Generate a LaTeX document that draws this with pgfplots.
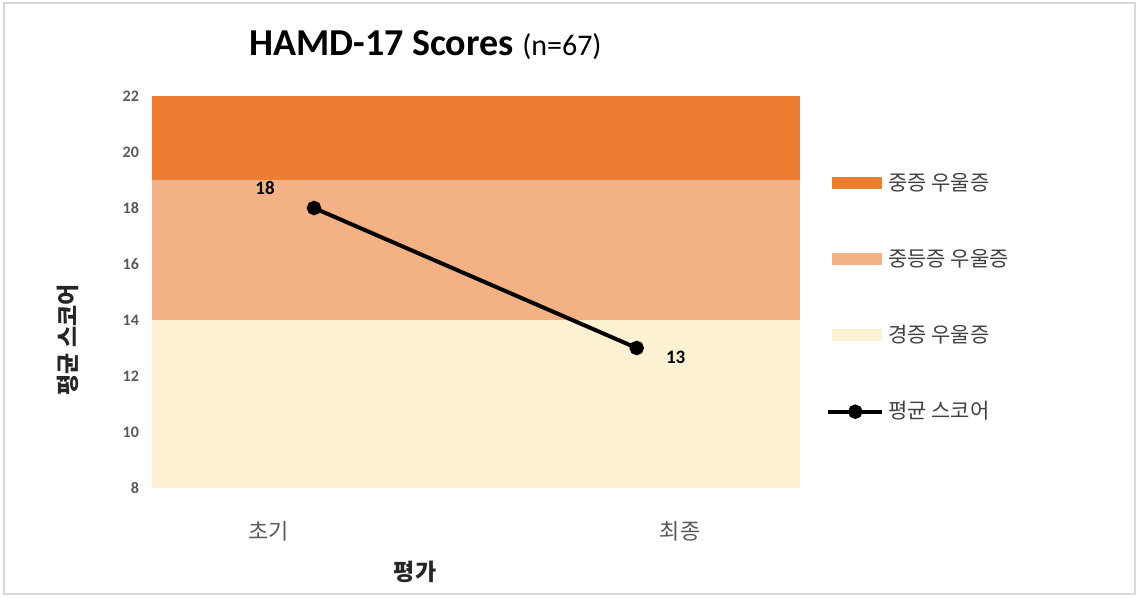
\documentclass[border=0pt]{standalone}
\usepackage{fontspec}
\setmainfont{Carlito}
\newfontfamily\kr{Noto Sans CJK KR}
\usepackage{pgfplots}
\pgfplotsset{compat=1.18}
\definecolor{sev}{HTML}{ED7D31}
\definecolor{mod}{HTML}{F4B183}
\definecolor{mild}{HTML}{FCF1D0}
\definecolor{tick}{HTML}{595959}
\definecolor{legtxt}{HTML}{404040}
\begin{document}
\begin{tikzpicture}
\useasboundingbox (0,0) rectangle (569.5pt,299pt);
\draw[black!15, line width=1.2pt] (2pt,2pt) rectangle (567.5pt,297.5pt);
\begin{axis}[
  at={(76pt,55pt)}, anchor=south west,
  scale only axis, width=324pt, height=196pt,
  xmin=0, xmax=1, ymin=8, ymax=22,
  axis line style={draw=none},
  major tick length=0pt,
  ytick={8,10,...,22},
  yticklabel style={font=\fontsize{8}{9}\selectfont\bfseries, text=tick, xshift=-3pt},
  xtick={0.18,0.815},
  xticklabels={초기,최종},
  xticklabel style={font=\kr\fontsize{11}{12}\selectfont, text=tick, yshift=-13pt},
  /pgf/number format/assume math mode=true,
  clip=false,
  legend style={at={(axis description cs:1.04,0.815)}, anchor=north west,
    draw=none, fill=none, inner sep=0pt,
    font=\kr\fontsize{10.5}{12}\selectfont, text=legtxt,
    row sep=24pt},
  legend cell align=left,
]
\addplot[draw=none, fill=sev, legend image code/.code={\fill[sev] (0pt,-3pt) rectangle (25pt,3pt);}]
  coordinates {(0,19) (1,19) (1,22) (0,22)} -- cycle;
\addlegendentry{중증 우울증}
\addplot[draw=none, fill=mod, legend image code/.code={\fill[mod] (0pt,-3pt) rectangle (25pt,3pt);}]
  coordinates {(0,14) (1,14) (1,19) (0,19)} -- cycle;
\addlegendentry{중등증 우울증}
\addplot[draw=none, fill=mild, legend image code/.code={\fill[mild] (0pt,-3pt) rectangle (25pt,3pt);}]
  coordinates {(0,8) (1,8) (1,14) (0,14)} -- cycle;
\addlegendentry{경증 우울증}
\addplot[black, line width=2pt, mark=*, mark size=2.6pt,
  legend image code/.code={\draw[black, line width=2pt] (-2pt,0) -- (25pt,0); \fill[black] (11.5pt,0) circle (2.6pt);}]
  coordinates {(0.25,18) (0.748,13)};
\addlegendentry{평균 스코어}
\node[font=\fontsize{9.5}{10}\selectfont\bfseries] at (axis cs:0.25,18) [xshift=-24.5pt, yshift=10pt] {18};
\node[font=\fontsize{9.5}{10}\selectfont\bfseries] at (axis cs:0.748,13) [xshift=19.5pt, yshift=-4.5pt] {13};
\node[font=\fontsize{19}{21}\selectfont\bfseries] at (axis description cs:0.422,1.13)
  {HAMD-17 Scores {\mdseries\fontsize{15}{17}\selectfont (n=67)}};
\node[font=\kr\fontsize{11.5}{13}\selectfont\bfseries, text=black!85] at (axis description cs:0.406,-0.214) {평가};
\node[font=\kr\fontsize{11.5}{13}\selectfont\bfseries, text=black!85, rotate=90] at (axis description cs:-0.13,0.378) {평균 스코어};
\end{axis}
\end{tikzpicture}
\end{document}
